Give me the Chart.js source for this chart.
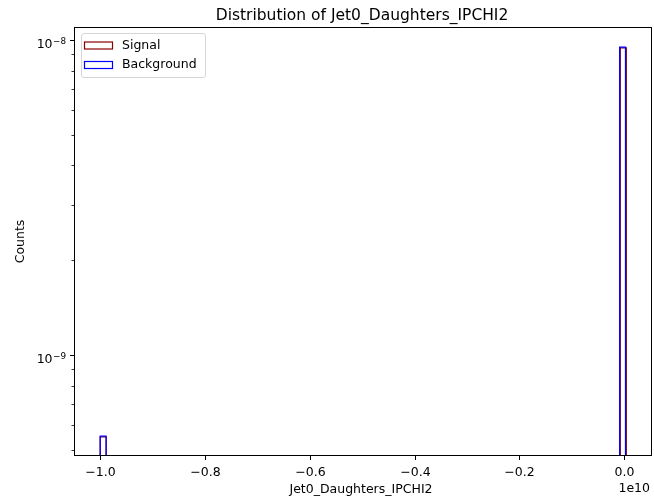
<!DOCTYPE html>
<html>
<head>
<meta charset="utf-8">
<script src="https://cdn.jsdelivr.net/npm/chart.js@4.4.1/dist/chart.umd.min.js"></script>
<style>
  html, body { margin: 0; padding: 0; background: #fff; }
  #wrap { width: 654px; height: 502px; }
</style>
</head>
<body>
<div id="wrap"><canvas id="histChart" width="654" height="502"></canvas></div>
<script>
// x values are in units of 1e10 (matplotlib offset label "1e10")
const xTicks = [-1.0, -0.8, -0.6, -0.4, -0.2, 0.0];
const yMajorTicks = [1e-9, 1e-8];
const yMinorTicks = [5e-10, 6e-10, 7e-10, 8e-10, 9e-10, 2e-9, 3e-9, 4e-9, 5e-9, 6e-9, 7e-9, 8e-9, 9e-9];

// non-empty bins only (density histogram, step style)
const signalLeft = [-1.0, -0.0075];
const signalRight = [-0.9885, 0.0040];
const signalDensity = [5.50e-10, 9.45e-9];

const backgroundLeft = [-1.0, -0.0088];
const backgroundRight = [-0.9888, 0.0024];
const backgroundDensity = [5.53e-10, 9.49e-9];

const FONT = '"DejaVu Sans", sans-serif';
const BASE = 1e-14; // below axis, clipped away (log scale)

function stepPoints(lefts, rights, heights) {
    const pts = [];
    for (let i = 0; i < lefts.length; i++) {
        pts.push({ x: lefts[i], y: BASE });
        pts.push({ x: lefts[i], y: heights[i] });
        pts.push({ x: rights[i], y: heights[i] });
        pts.push({ x: rights[i], y: BASE });
    }
    return pts;
}

function fmtTick(v) {
    if (Math.abs(v) < 1e-9) return '0.0';
    return (v < 0 ? '\u2212' : '') + Math.abs(v).toFixed(1);
}

// axes, ticks, labels and legend drawn matplotlib-style
const axesPlugin = {
    id: 'axesPlugin',
    afterDatasetsDraw(chart) {
        const ctx = chart.ctx;
        const a = chart.chartArea;
        const xs = chart.scales.x;
        const ys = chart.scales.y;
        ctx.save();
        ctx.strokeStyle = '#000';
        ctx.fillStyle = '#000';
        ctx.lineWidth = 1;

        // frame
        ctx.strokeRect(a.left + 0.5, a.top + 0.5, a.right - a.left - 1, a.bottom - a.top - 1);

        // x ticks
        ctx.font = '12.5px ' + FONT;
        ctx.textAlign = 'center';
        ctx.textBaseline = 'alphabetic';
        xTicks.forEach(v => {
            const px = Math.round(xs.getPixelForValue(v)) + 0.5;
            ctx.beginPath();
            ctx.moveTo(px, a.bottom);
            ctx.lineTo(px, a.bottom + 4);
            ctx.stroke();
            ctx.fillText(fmtTick(v), px, a.bottom + 20);
        });
        ctx.textAlign = 'right';
        ctx.fillText('1e10', a.right - 2, a.bottom + 36);

        // y ticks
        yMajorTicks.forEach(v => {
            const py = Math.round(ys.getPixelForValue(v)) + 0.5;
            ctx.beginPath();
            ctx.moveTo(a.left, py);
            ctx.lineTo(a.left - 4, py);
            ctx.stroke();
            const exp = Math.round(Math.log10(v));
            const sup = '\u2212' + Math.abs(exp);
            ctx.font = '8.8px ' + FONT;
            ctx.textAlign = 'right';
            const supRight = a.left - 8;
            ctx.fillText(sup, supRight, py + 3);
            const supW = ctx.measureText(sup).width;
            ctx.font = '12.5px ' + FONT;
            ctx.fillText('10', supRight - supW - 0.5, py + 7.5);
        });
        ctx.lineWidth = 0.8;
        yMinorTicks.forEach(v => {
            const py = Math.round(ys.getPixelForValue(v)) + 0.5;
            if (py < a.top || py > a.bottom) return;
            ctx.beginPath();
            ctx.moveTo(a.left, py);
            ctx.lineTo(a.left - 2.5, py);
            ctx.stroke();
        });

        // axis titles and title
        ctx.font = '12.5px ' + FONT;
        ctx.textAlign = 'center';
        ctx.fillText('Jet0_Daughters_IPCHI2', (a.left + a.right) / 2 - 2, a.bottom + 37);
        ctx.save();
        ctx.translate(21, (a.top + a.bottom) / 2);
        ctx.rotate(-Math.PI / 2);
        ctx.textBaseline = 'middle';
        ctx.fillText('Counts', 0, 0);
        ctx.restore();
        ctx.font = '15.5px ' + FONT;
        ctx.textBaseline = 'alphabetic';
        ctx.fillText('Distribution of Jet0_Daughters_IPCHI2', (a.left + a.right) / 2 - 1, 20);

        // legend
        const lx = a.left + 7, ly = a.top + 6, lw = 124, lh = 44;
        ctx.beginPath();
        ctx.roundRect(lx + 0.5, ly + 0.5, lw, lh, 2.5);
        ctx.fillStyle = 'rgba(255,255,255,0.8)';
        ctx.fill();
        ctx.strokeStyle = '#d6d6d6';
        ctx.lineWidth = 1;
        ctx.stroke();
        ctx.font = '12.5px ' + FONT;
        ctx.textAlign = 'left';
        ctx.textBaseline = 'middle';
        const entries = chart.data.datasets;
        entries.forEach((ds, i) => {
            const cy = ly + 12.5 + i * 19.5;
            ctx.strokeStyle = ds.borderColor;
            ctx.lineWidth = 1.2;
            ctx.strokeRect(lx + 3.5, cy - 3.5, 28, 7);
            ctx.fillStyle = '#000';
            ctx.fillText(ds.label, lx + 41, cy);
        });
        ctx.restore();
    }
};

new Chart(document.getElementById('histChart'), {
    type: 'line',
    data: {
        datasets: [
            {
                label: 'Signal',
                data: stepPoints(signalLeft, signalRight, signalDensity),
                borderColor: '#8b0000',
                borderWidth: 1.2,
                order: 2
            },
            {
                label: 'Background',
                data: stepPoints(backgroundLeft, backgroundRight, backgroundDensity),
                borderColor: '#0000ff',
                borderWidth: 1.2,
                order: 1
            }
        ]
    },
    options: {
        responsive: false,
        devicePixelRatio: 1,
        animation: false,
        layout: { padding: { left: 74, right: 2, top: 27, bottom: 46 } },
        elements: {
            point: { radius: 0 },
            line: { tension: 0, fill: false, borderJoinStyle: 'miter' }
        },
        plugins: {
            legend: { display: false },
            title: { display: false },
            tooltip: { enabled: false }
        },
        scales: {
            x: { type: 'linear', min: -1.05, max: 0.053, display: false },
            y: { type: 'logarithmic', min: 4.78e-10, max: 1.1e-8, display: false }
        }
    },
    plugins: [axesPlugin]
});
</script>
</body>
</html>
